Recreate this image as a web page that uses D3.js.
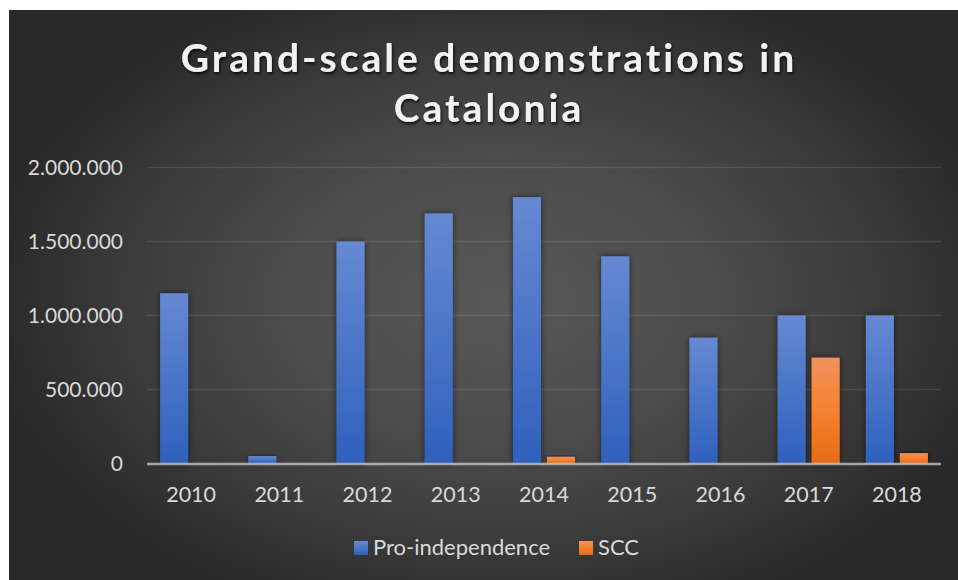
<!DOCTYPE html>
<html>
<head>
<meta charset="utf-8">
<script src="https://cdn.jsdelivr.net/npm/d3@7"></script>
<style>
  body { margin: 0; background: #fff; }
  svg { display: block; }
  text { font-family: Lato, "Open Sans", sans-serif; }
</style>
</head>
<body>
<div id="chart"></div>
<script>
const years = ["2010", "2011", "2012", "2013", "2014", "2015", "2016", "2017", "2018"];
const proIndependence = [1150000, 50000, 1500000, 1690000, 1800000, 1400000, 850000, 1000000, 1000000];
const scc = [0, 0, 0, 0, 45000, 0, 0, 715000, 70000];
const seriesNames = ["Pro-independence", "SCC"];
const yTicks = [0, 500000, 1000000, 1500000, 2000000];
const titleLines = ["Grand-scale demonstrations in", "Catalonia"];

const W = 958, H = 580;
const plot = {left: 147, right: 941, top: 167.5, bottom: 463.5};

const svg = d3.select('#chart').append('svg')
    .attr('width', W)
    .attr('height', H);

const defs = svg.append('defs');

// background radial gradient
const bg = defs.append('radialGradient')
    .attr('id', 'bg')
    .attr('gradientUnits', 'userSpaceOnUse')
    .attr('cx', 0).attr('cy', 0).attr('r', 1)
    .attr('gradientTransform', 'translate(500,300) scale(520,340)');
[[0, '#585858'], [0.4, '#4c4c4c'], [0.7, '#3c3c3c'], [1, '#282828']].forEach(s => {
  bg.append('stop').attr('offset', s[0]).attr('stop-color', s[1]);
});

const blueGrad = defs.append('linearGradient')
    .attr('id', 'blueGrad').attr('x1', 0).attr('y1', 0).attr('x2', 0).attr('y2', 1);
blueGrad.append('stop').attr('offset', 0).attr('stop-color', '#6689d2');
blueGrad.append('stop').attr('offset', 1).attr('stop-color', '#2f60bd');

const orangeGrad = defs.append('linearGradient')
    .attr('id', 'orangeGrad').attr('x1', 0).attr('y1', 0).attr('x2', 0).attr('y2', 1);
orangeGrad.append('stop').attr('offset', 0).attr('stop-color', '#f1925c');
orangeGrad.append('stop').attr('offset', 0.5).attr('stop-color', '#f6812f');
orangeGrad.append('stop').attr('offset', 1).attr('stop-color', '#e56c17');

const barShadow = defs.append('filter').attr('id', 'barShadow')
    .attr('x', '-50%').attr('y', '-20%').attr('width', '200%').attr('height', '140%');
barShadow.append('feDropShadow')
    .attr('dx', 0).attr('dy', 0).attr('stdDeviation', 3)
    .attr('flood-color', '#000').attr('flood-opacity', 0.55);

const titleShadow = defs.append('filter').attr('id', 'titleShadow')
    .attr('x', '-10%').attr('y', '-30%').attr('width', '120%').attr('height', '160%');
titleShadow.append('feDropShadow')
    .attr('dx', 1).attr('dy', 2).attr('stdDeviation', 1.5)
    .attr('flood-color', '#000').attr('flood-opacity', 0.8);

svg.append('rect')
    .attr('x', 9).attr('y', 10)
    .attr('width', W - 9).attr('height', H - 10)
    .attr('fill', 'url(#bg)');

// scales
const x0 = d3.scaleBand()
    .domain(years)
    .range([plot.left, plot.right])
    .paddingInner(0.297)
    .paddingOuter(0.1485);

const x1 = d3.scaleBand()
    .domain(seriesNames)
    .range([0, x0.bandwidth()])
    .paddingInner(0.176);

const y = d3.scaleLinear()
    .domain([0, 2000000])
    .range([plot.bottom, plot.top]);

const fmt = d3.formatLocale({decimal: ",", thousands: ".", grouping: [3], currency: ["", ""]}).format(",");

// gridlines
svg.append('g').selectAll('line')
    .data(yTicks.filter(d => d > 0))
    .enter().append('line')
      .attr('x1', plot.left).attr('x2', plot.right)
      .attr('y1', d => y(d)).attr('y2', d => y(d))
      .attr('stroke', '#fff')
      .attr('stroke-opacity', 0.1)
      .attr('stroke-width', 1.5);

// y labels
svg.append('g').selectAll('text')
    .data(yTicks)
    .enter().append('text')
      .attr('x', 123)
      .attr('y', d => y(d) + 7.5)
      .attr('text-anchor', 'end')
      .attr('fill', '#d9d9d9')
      .style('font-size', '21px')
      .text(d => fmt(d));

// bars
const rows = years.map((yr, i) => ({year: yr, values: [
  {name: seriesNames[0], value: proIndependence[i]},
  {name: seriesNames[1], value: scc[i]}
]}));

svg.append('g').selectAll('g')
    .data(rows)
    .enter().append('g')
      .attr('transform', d => `translate(${x0(d.year)},0)`)
    .selectAll('rect')
    .data(d => d.values.filter(v => v.value > 0))
    .enter().append('rect')
      .attr('x', d => x1(d.name))
      .attr('width', x1.bandwidth())
      .attr('y', d => y(d.value))
      .attr('height', d => y(0) - y(d.value))
      .attr('fill', d => d.name === seriesNames[0] ? 'url(#blueGrad)' : 'url(#orangeGrad)')
      .attr('filter', 'url(#barShadow)');

// zero axis line
svg.append('line')
    .attr('x1', plot.left).attr('x2', plot.right)
    .attr('y1', y(0) + 0.5).attr('y2', y(0) + 0.5)
    .attr('stroke', '#d9d9d9')
    .attr('stroke-opacity', 0.7)
    .attr('stroke-width', 2.5);

// x labels
svg.append('g').selectAll('text')
    .data(years)
    .enter().append('text')
      .attr('x', d => x0(d) + x0.bandwidth() / 2)
      .attr('y', 502)
      .attr('text-anchor', 'middle')
      .attr('fill', '#d9d9d9')
      .style('font-size', '21.5px')
      .text(d => d);

// title
const title = svg.append('g').attr('filter', 'url(#titleShadow)');
title.selectAll('text')
    .data(titleLines)
    .enter().append('text')
      .attr('x', 489)
      .attr('y', (d, i) => 72 + i * 50)
      .attr('text-anchor', 'middle')
      .attr('fill', '#f2f2f2')
      .style('font-size', '39px')
      .style('font-weight', 'bold')
      .style('letter-spacing', '3px')
      .text(d => d);

// legend
const legendItems = [
  {name: seriesNames[0], color: 'url(#blueGrad)', x: 354},
  {name: seriesNames[1], color: 'url(#orangeGrad)', x: 579}
];
const legend = svg.append('g').selectAll('g')
    .data(legendItems)
    .enter().append('g')
      .attr('transform', d => `translate(${d.x},541)`);
legend.append('rect')
    .attr('width', 14).attr('height', 14)
    .attr('fill', d => d.color);
legend.append('text')
    .attr('x', 19).attr('y', 13.5)
    .attr('fill', '#d9d9d9')
    .style('font-size', '22px')
    .text(d => d.name);
</script>
</body>
</html>
